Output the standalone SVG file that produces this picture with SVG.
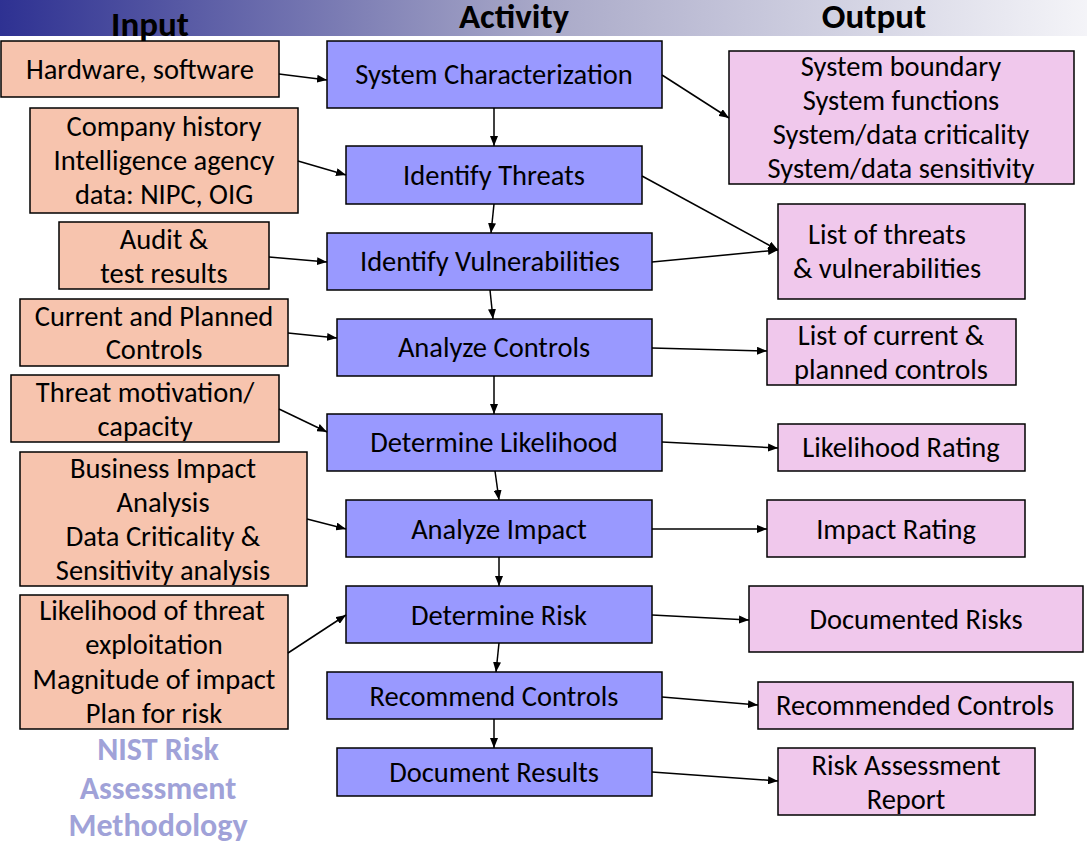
<svg xmlns="http://www.w3.org/2000/svg" width="1087" height="844" viewBox="0 0 1087 844">
<defs>
<linearGradient id="hdr" x1="0" y1="0" x2="1" y2="0">
<stop offset="0" stop-color="#2E3192"/>
<stop offset="0.5" stop-color="#A9A9C8"/>
<stop offset="1" stop-color="#F4F4F8"/>
</linearGradient>
<marker id="ah" markerWidth="10" markerHeight="8" refX="10" refY="4" orient="auto" markerUnits="userSpaceOnUse">
<path d="M0,0 L10,4 L0,8 Z" fill="#000"/>
</marker>
<style>
text{font-family:Carlito,Lato,"Liberation Sans",sans-serif;font-size:28.5px;fill:#000;text-anchor:middle}
.hd{font-size:35px;font-weight:bold}
.in rect{fill:#F7C4AE;stroke:#000;stroke-width:1.5}
.ac rect{fill:#9999FF;stroke:#000;stroke-width:1.5}
.out rect{fill:#F0C8EC;stroke:#000;stroke-width:1.5}
.nist{fill:#A0A2D8;font-weight:bold;font-size:32px}
#connectors line{stroke:#000;stroke-width:1.5;marker-end:url(#ah)}
</style>
</defs>
<rect x="0" y="0" width="1087" height="36" fill="url(#hdr)"/>
<text class="hd" x="150" y="36">Input</text>
<text class="hd" x="514" y="28">Activity</text>
<text class="hd" x="874" y="28">Output</text>

<g id="in1" class="in"><rect x="1" y="41" width="278" height="56"/><text x="140" y="79">Hardware, software</text></g>
<g id="in2" class="in"><rect x="30" y="108" width="268" height="105"/><text x="164" y="136">Company history</text><text x="164" y="170">Intelligence agency</text><text x="164" y="204">data: NIPC, OIG</text></g>
<g id="in3" class="in"><rect x="59" y="222" width="210" height="67"/><text x="164" y="249">Audit &amp;</text><text x="164" y="283">test results</text></g>
<g id="in4" class="in"><rect x="20" y="299" width="268" height="67"/><text x="154" y="326">Current and Planned</text><text x="154" y="359">Controls</text></g>
<g id="in5" class="in"><rect x="11" y="375" width="268" height="67"/><text x="145" y="402">Threat motivation/</text><text x="145" y="436">capacity</text></g>
<g id="in6" class="in"><rect x="20" y="452" width="287" height="134"/><text x="163" y="478">Business Impact</text><text x="163" y="512">Analysis</text><text x="163" y="546">Data Criticality &amp;</text><text x="163" y="580">Sensitivity analysis</text></g>
<g id="in7" class="in"><rect x="20" y="595" width="268" height="134"/><text x="152" y="620">Likelihood of threat</text><text x="154" y="654">exploitation</text><text x="154" y="689">Magnitude of impact</text><text x="154" y="723">Plan for risk</text></g>

<g id="nist"><text class="nist" x="158" y="760">NIST Risk</text><text class="nist" x="158" y="799">Assessment</text><text class="nist" x="158" y="836">Methodology</text></g>

<g id="a1" class="ac"><rect x="327" y="41" width="335" height="67"/><text x="494" y="84">System Characterization</text></g>
<g id="a2" class="ac"><rect x="346" y="146" width="296" height="58"/><text x="494" y="185">Identify Threats</text></g>
<g id="a3" class="ac"><rect x="327" y="233" width="325" height="57"/><text x="490" y="271">Identify Vulnerabilities</text></g>
<g id="a4" class="ac"><rect x="337" y="319" width="315" height="57"/><text x="494" y="357">Analyze Controls</text></g>
<g id="a5" class="ac"><rect x="327" y="414" width="335" height="57"/><text x="494" y="452">Determine Likelihood</text></g>
<g id="a6" class="ac"><rect x="346" y="500" width="306" height="57"/><text x="499" y="539">Analyze Impact</text></g>
<g id="a7" class="ac"><rect x="346" y="586" width="306" height="57"/><text x="499" y="625">Determine Risk</text></g>
<g id="a8" class="ac"><rect x="327" y="672" width="335" height="47"/><text x="494" y="706">Recommend Controls</text></g>
<g id="a9" class="ac"><rect x="337" y="748" width="315" height="48"/><text x="494" y="782">Document Results</text></g>

<g id="o1" class="out"><rect x="729" y="51" width="345" height="133"/><text x="901" y="76">System boundary</text><text x="901" y="110">System functions</text><text x="901" y="144">System/data criticality</text><text x="901" y="178">System/data sensitivity</text></g>
<g id="o2" class="out"><rect x="778" y="204" width="247" height="95"/><text x="887" y="244">List of threats</text><text x="887" y="278">&amp; vulnerabilities</text></g>
<g id="o3" class="out"><rect x="767" y="319" width="249" height="66"/><text x="891" y="345">List of current &amp;</text><text x="891" y="379">planned controls</text></g>
<g id="o4" class="out"><rect x="778" y="424" width="247" height="47"/><text x="901" y="457">Likelihood Rating</text></g>
<g id="o5" class="out"><rect x="767" y="500" width="258" height="57"/><text x="896" y="539">Impact Rating</text></g>
<g id="o6" class="out"><rect x="749" y="586" width="334" height="66"/><text x="916" y="629">Documented Risks</text></g>
<g id="o7" class="out"><rect x="758" y="682" width="315" height="47"/><text x="915" y="715">Recommended Controls</text></g>
<g id="o8" class="out"><rect x="778" y="748" width="257" height="67"/><text x="906" y="775">Risk Assessment</text><text x="906" y="809">Report</text></g>

<g id="connectors">
<line x1="279" y1="74" x2="327" y2="80"/>
<line x1="298" y1="161" x2="346" y2="175"/>
<line x1="269" y1="257" x2="327" y2="262"/>
<line x1="288" y1="333" x2="337" y2="338"/>
<line x1="279" y1="409" x2="327" y2="432"/>
<line x1="307" y1="519" x2="346" y2="529"/>
<line x1="288" y1="653" x2="346" y2="615"/>
<line x1="494" y1="108" x2="494" y2="146"/>
<line x1="494" y1="204" x2="491" y2="233"/>
<line x1="490" y1="290" x2="493" y2="319"/>
<line x1="494" y1="376" x2="494" y2="414"/>
<line x1="495" y1="471" x2="499" y2="500"/>
<line x1="499" y1="557" x2="499" y2="586"/>
<line x1="499" y1="643" x2="496" y2="672"/>
<line x1="494" y1="719" x2="494" y2="748"/>
<line x1="662" y1="75" x2="729" y2="118"/>
<line x1="642" y1="176" x2="778" y2="250"/>
<line x1="652" y1="262" x2="778" y2="250"/>
<line x1="652" y1="348" x2="767" y2="351"/>
<line x1="662" y1="442" x2="778" y2="448"/>
<line x1="652" y1="529" x2="767" y2="529"/>
<line x1="652" y1="615" x2="749" y2="620"/>
<line x1="662" y1="697" x2="758" y2="705"/>
<line x1="652" y1="772" x2="778" y2="781"/>
</g>
</svg>
